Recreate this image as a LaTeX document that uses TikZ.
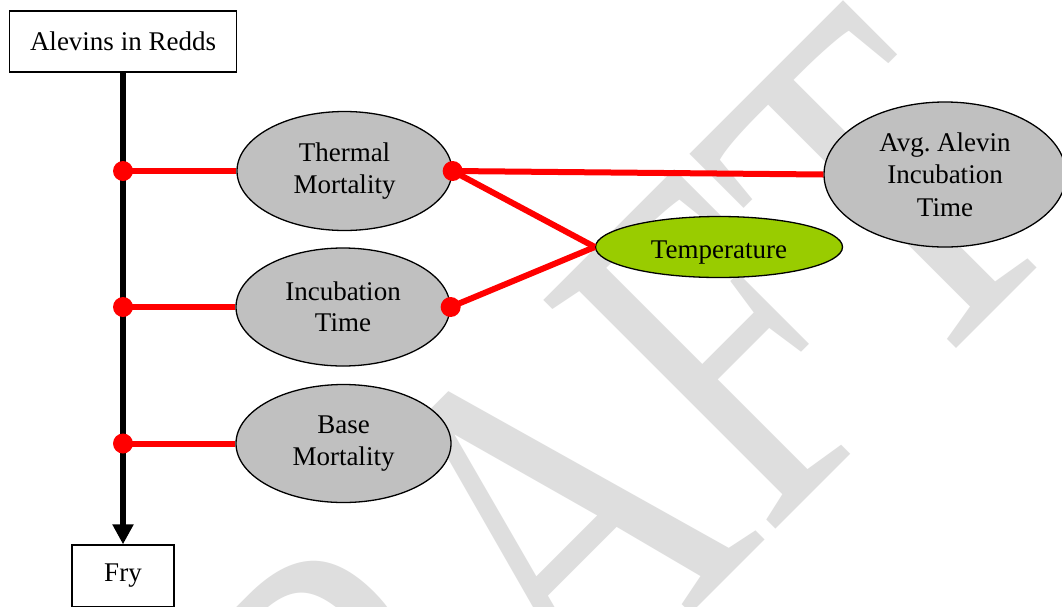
\documentclass[tikz,border=0pt]{standalone}
\usepackage{fontspec}
\setmainfont{Liberation Serif}
\usetikzlibrary{shapes.geometric,arrows.meta}
\definecolor{wmgray}{RGB}{222,222,222}
\definecolor{ovalgray}{RGB}{192,192,192}
\definecolor{tempgreen}{RGB}{153,204,0}
\definecolor{linkred}{RGB}{255,0,0}
\begin{document}
\begin{tikzpicture}[x=1pt,y=-1pt,
  every node/.style={font=\fontsize{27}{31.5}\selectfont, align=center, inner sep=0pt},
  box/.style={draw, line width=1.3pt, fill=white, rectangle},
  oval/.style={draw, line width=1.3pt, ellipse, fill=ovalgray},
  textdrop/.style={execute at begin node={\rule{0pt}{#1}}},
  link/.style={draw=linkred, line width=6pt},
  joint/.style={fill=linkred}]
\useasboundingbox (0,0) rectangle (1062,606);
\fill[white] (0,0) rectangle (1062,606);

% watermark behind the diagram
\node[rotate=45, anchor=base west, text=wmgray, font=\fontsize{377}{377}\selectfont]
  (wm) at (204,1101) {\scalebox{1}[1.32]{DRAFT}};

% stage boxes
\node[box, minimum width=227pt, minimum height=61pt] (alev) at (123,41.5) {Alevins in Redds};
\node[box, minimum width=102pt, minimum height=62pt] (fry) at (123,576) {Fry};

% factor ovals
\node[oval, textdrop=24.5pt, minimum width=215pt, minimum height=119pt] (tm) at (344.5,171) {Thermal\\Mortality};
\node[oval, textdrop=24.5pt, minimum width=214pt, minimum height=118pt] (it) at (343,307) {Incubation\\Time};
\node[oval, textdrop=24.5pt, minimum width=215pt, minimum height=118pt] (bm) at (343.5,443.5) {Base\\Mortality};
\node[oval, textdrop=28pt, fill=tempgreen, minimum width=247pt, minimum height=61pt] (temp) at (719,247) {Temperature};
\node[oval, textdrop=27pt, font=\fontsize{27}{32.5}\selectfont, minimum width=242pt, minimum height=145pt] (avg) at (945,174.5) {Avg.\ Alevin\\Incubation\\Time};

% main flow
\draw[line width=6pt, -{Triangle[length=20pt,width=20pt]}] (alev.south) -- (fry.north);

% junctions on the flow line
\coordinate (j1) at (alev.south |- tm.west);
\coordinate (j2) at (alev.south |- it.west);
\coordinate (j3) at (alev.south |- bm.west);

% influence links
\draw[link] (j1) -- (tm.west);
\draw[link] (j2) -- (it.west);
\draw[link] (j3) -- (bm.west);
\draw[link] (tm.east) -- (avg.west);
\draw[link] (tm.east) -- (temp.west);
\draw[link] (it.east) -- (temp.west);

\foreach \p in {j1,j2,j3,tm.east,it.east}
  \fill[joint] (\p) circle (10pt);
\end{tikzpicture}
\end{document}
